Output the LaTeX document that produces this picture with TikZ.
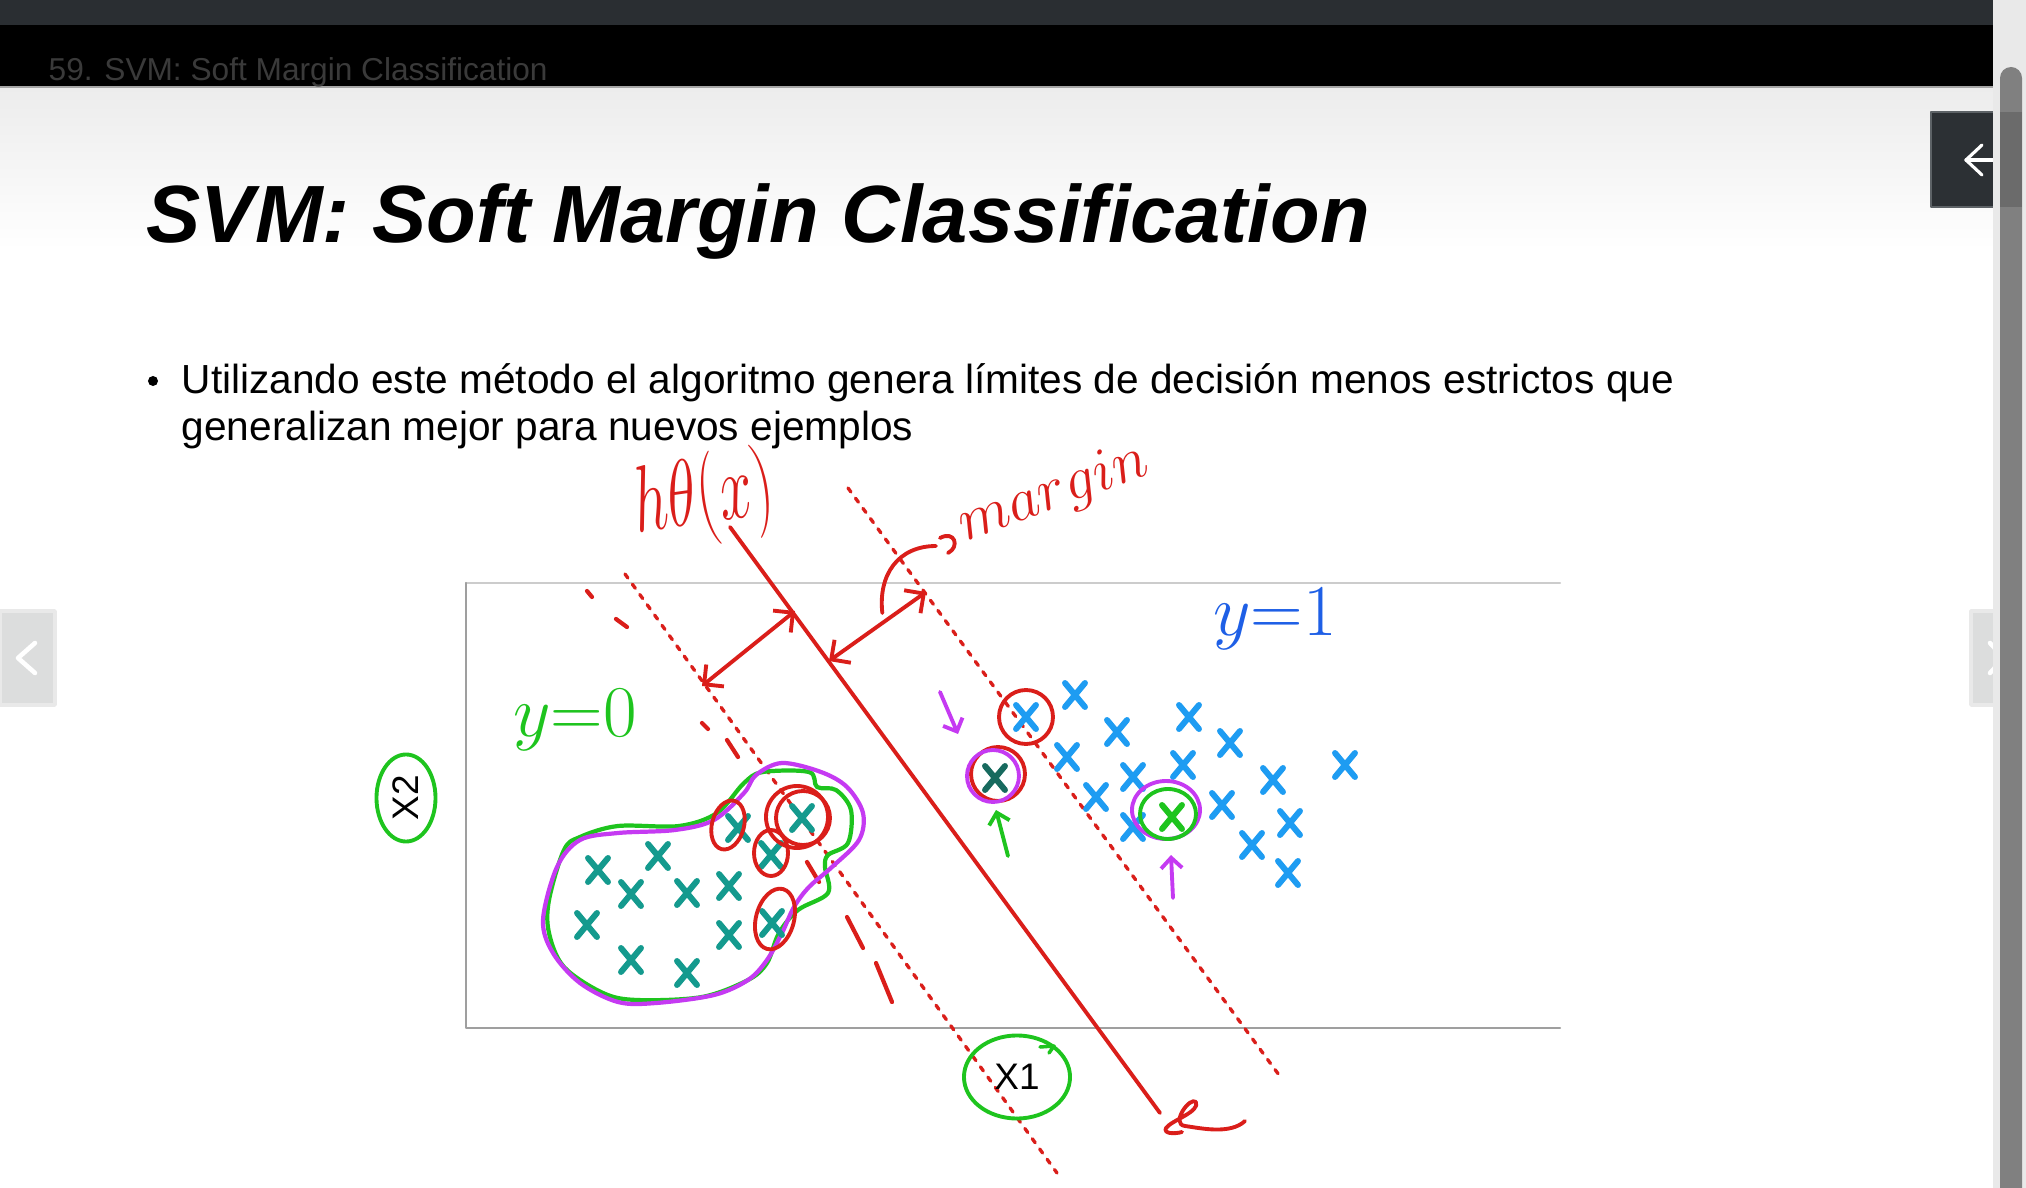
\documentclass[tikz,border=0pt]{standalone}
\usepackage{fontspec}
\setmainfont{Liberation Sans}
\usetikzlibrary{arrows.meta,positioning,calc,shapes.geometric}

\definecolor{hdrgray}{HTML}{2A2E32}
\definecolor{hdrtext}{HTML}{3A3A3A}
\definecolor{pagegray}{HTML}{ECECEC}
\definecolor{penred}{HTML}{DA1E1A}
\definecolor{pengreen}{HTML}{1EC41E}
\definecolor{penmag}{HTML}{C53AF2}
\definecolor{penblue}{HTML}{1E5FE6}
\definecolor{crossblue}{HTML}{1E9CF2}
\definecolor{crossteal}{HTML}{149A8E}
\definecolor{crossdark}{HTML}{176A5E}
\definecolor{navgray}{HTML}{DCDDDD}
\definecolor{navedge}{HTML}{E9E9E9}
\definecolor{btndark}{HTML}{2C3034}
\definecolor{btnedge}{HTML}{5D6266}

\newcommand{\bodysize}{\fontsize{11.55}{14}\selectfont}

\tikzset{
  pen/.style={line width=1.1pt, line cap=round, line join=round},
  dotline/.style={penred, line width=0.95pt, dash pattern=on 1.4pt off 2.2pt},
  mgnarrow/.style={penred, pen, {Straight Barb[length=4pt,width=8pt]}-{Straight Barb[length=4pt,width=8pt]}},
  penarrow/.style={pen, -{Straight Barb[length=3pt,width=6pt]}},
  axislabel/.style={draw=pengreen, line width=1.1pt, ellipse, inner sep=0pt, font=\fontsize{10.5}{12}\selectfont},
  xmark/.pic={\draw[line width=1.7pt, line cap=round] (-10,-12) -- (10,12) (10,-12) -- (-10,12);},
}

\begin{document}
\begin{tikzpicture}[x=0.01cm, y=-0.01cm, line cap=round, line join=round]
\useasboundingbox (0,0) rectangle (2026,1188);
\fill[white] (0,0) rectangle (2026,1188);
\shade[top color=pagegray, bottom color=white] (0,87) rectangle (2026,250);
\fill[hdrgray] (0,0) rectangle (2026,25);
\fill[black] (0,25) rectangle (2026,87);
\draw[gray!70, line width=0.4pt] (0,87) -- (2026,87);
\node[anchor=base west, inner sep=0, text=hdrtext, font=\fontsize{9}{11}\selectfont] (hdr) at (48,81) {59. SVM: Soft Margin Classification};

\node[anchor=base west, inner sep=0, font=\fontsize{23.1}{28}\selectfont\bfseries\itshape] (title) at (146,243) {SVM: Soft Margin Classification};
\node[circle, fill=black, inner sep=0, minimum size=0.1cm] (bullet) at (153,381) {};
\node[anchor=base west, inner sep=0, font=\bodysize] (lineA) at (181,394) {Utilizando este método el algoritmo genera límites de decisión menos estrictos que};
\node[anchor=base west, inner sep=0, font=\bodysize] (lineB) at (181,441) {generalizan mejor para nuevos ejemplos};

% plot frame
\draw[gray!40, line width=0.7pt] (466,583) -- (1560,583);
\draw[gray!75, line width=0.7pt] (466,583) -- (466,1028) -- (1560,1028);

% decision boundary and margins
\coordinate (htop) at (730,527);
\coordinate (hbot) at (1160,1113);
\coordinate (ltop) at (625,574);
\coordinate (lbot) at (1057,1173);
\coordinate (rtop) at (848,488);
\coordinate (rbot) at (1279,1075);
\draw[penred, line width=1.1pt] (htop) -- (hbot);
\draw[dotline] (ltop) -- (lbot);
\draw[dotline] (rtop) -- (rbot);
\foreach \ax/\ay/\bx/\by in {587/591/592/597, 616/619/627/627, 702/723/708/729, 727/740/738/757,
                             807/862/819/882, 847/917/863/948, 876/963/892/1002}
  \draw[penred, line width=1.2pt] (\ax,\ay) -- (\bx,\by);

\coordinate (mgnLa) at (702,686);
\coordinate (mgnLb) at (795,611);
\coordinate (mgnRa) at (829,661);
\coordinate (mgnRb) at (926,592);
\draw[mgnarrow] (mgnLa) -- (mgnLb);
\draw[mgnarrow] (mgnRa) -- (mgnRb);

\node[penred, rotate=8, font=\fontsize{16.5}{17}\selectfont] (hlabel) at (704,499) {\scalebox{1}[1.55]{$h\theta(x)$}};
\node[penred, rotate=20, font=\fontsize{19}{19}\selectfont] (mlabel) at (1054,494) {$margin$};
\coordinate (mhook) at (936,546);
\draw[penred, pen] ($(mgnRa)!0.55!(mgnRb)+(0,-10)$) .. controls (878,575) and (898,546) .. (mhook);
\draw[penred, pen] (940,538) .. controls (955,530) and (960,547) .. (948,553);

\node[pengreen, anchor=base, font=\fontsize{20}{20}\selectfont] (yzero) at (575,736) {$y{=}0$};
\node[penblue, anchor=base, font=\fontsize{22}{22}\selectfont] (yone) at (1275,636) {$y{=}1$};

\node[axislabel, rotate=90, minimum width=0.87cm, minimum height=0.59cm] (xtwo) at (406,798) {X2};
\node[axislabel, minimum width=1.06cm, minimum height=0.83cm] (xone) at (1017,1077) {X1};
\draw[pengreen, line width=1pt] (1040,1047) -- (1054,1046) -- (1049,1053);

% class y=0
\draw[pengreen, line width=1.2pt] plot[smooth cycle, tension=0.55] coordinates {
  (549,900) (564,850) (580,837) (618,826) (679,826) (717,813) (744,783) (763,772) (809,772)
  (817,787) (836,790) (851,810) (848,843) (828,855) (825,867) (828,893) (798,910) (779,933)
  (767,963) (748,980) (702,997) (637,1000) (603,993) (564,967) (549,933)};
\draw[penmag, line width=1.2pt] plot[smooth cycle, tension=0.55] coordinates {
  (543,920) (557,867) (580,840) (618,833) (675,830) (714,820) (744,793) (756,775) (782,763)
  (821,772) (847,787) (863,813) (859,840) (832,867) (809,887) (794,907) (782,933) (767,960)
  (748,980) (714,995) (656,1003) (618,1002) (580,983) (553,953)};
\foreach \px/\py in {598/870, 658/856, 631/894, 687/893, 729/886, 587/925, 729/935, 631/960,
                     687/973, 772/923, 771/855, 738/828, 802/818}
  \pic[crossteal] at (\px,\py) {xmark};
\draw[penred, pen] (728,825) circle[x radius=16, y radius=25, rotate=-15];
\draw[penred, pen] (797,817) circle[radius=31];
\draw[penred, pen] (803,818) circle[radius=27];
\draw[penred, pen] (771,853) circle[x radius=17, y radius=23];
\draw[penred, pen] (775,919) circle[x radius=19, y radius=31, rotate=-15];

% class y=1
\foreach \px/\py in {1026/717, 1075/695, 1117/732, 1189/717, 1230/743, 1067/757, 1133/777, 1183/765,
                     1273/780, 1345/765, 1096/797, 1222/805, 1133/827, 1290/823, 1252/845, 1288/873}
  \pic[crossblue] at (\px,\py) {xmark};
\draw[penred, pen] (1026,717) circle[radius=27];

\pic[crossdark] at (995,778) {xmark};
\draw[penred, pen] (998,774) circle[radius=27];
\draw[penmag, pen] (993,776) circle[radius=26];

\draw[penmag, pen] (1166,810) circle[x radius=34, y radius=29];
\draw[pengreen, pen] (1168,814) circle[x radius=28, y radius=25];
\pic[pengreen] at (1172,817) {xmark};

\coordinate (pmA) at (940,692);
\coordinate (pmB) at (958,734);
\draw[penmag, penarrow] (pmA) -- (pmB);
\coordinate (pgA) at (1008,856);
\coordinate (pgB) at (996,810);
\draw[pengreen, penarrow] (pgA) -- (pgB);
\coordinate (pnA) at (1173,898);
\coordinate (pnB) at (1171,855);
\draw[penmag, penarrow] (pnA) -- (pnB);

\draw[penred, pen] (1245,1121) .. controls (1230,1135) and (1200,1128) .. (1185,1126)
  .. controls (1170,1124) and (1190,1096) .. (1196,1102)
  .. controls (1200,1112) and (1172,1120) .. (1166,1128)
  .. controls (1163,1134) and (1175,1134) .. (1182,1132);

% viewer controls
\filldraw[fill=navgray, draw=navedge, line width=1pt] (0,611) rectangle (55,705);
\draw[white, line width=1.3pt] (35,643) -- (18,658) -- (35,673);
\filldraw[fill=navgray, draw=navedge, line width=1pt] (1971,611) rectangle (2000,705);
\draw[white, line width=1.3pt] (1990,643) -- (2004,658) -- (1990,673);
\filldraw[fill=btndark, draw=btnedge, line width=0.6pt] (1931,112) rectangle (2000,207);
\draw[white, line width=0.9pt] (1998,160) -- (1966,160);
\draw[white, line width=0.9pt] (1982,145) -- (1966,160) -- (1982,175);
\fill[navedge] (1993,0) rectangle (2026,1188);
\fill[gray] (2000,1188) -- (2000,78) arc[start angle=180, end angle=360, radius=11] -- (2022,1188) -- cycle;
\fill[black!58] (2000,112) rectangle (2022,207);
\end{tikzpicture}
\end{document}
